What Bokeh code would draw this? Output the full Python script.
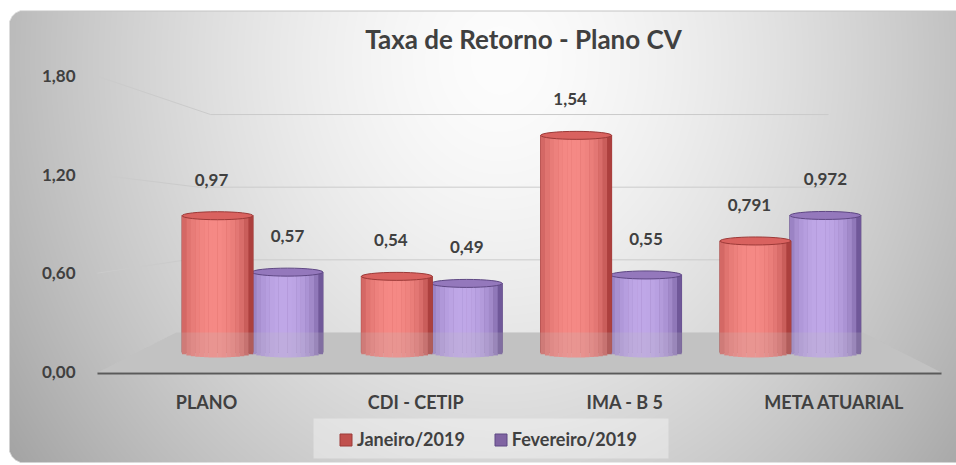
import numpy as np
from bokeh.plotting import figure
from bokeh.models import (Range1d, LinearAxis, FixedTicker, CustomJSTickFormatter,
                          Legend, LegendItem, ColumnDataSource)
from bokeh.transform import dodge
from bokeh.core.properties import value
from bokeh.embed import file_html
from bokeh.resources import INLINE

# ---------------- data ----------------
categories = ["PLANO", "CDI - CETIP", "IMA - B 5", "META ATUARIAL"]
series_names = ["Janeiro/2019", "Fevereiro/2019"]
janeiro = [0.97, 0.54, 1.54, 0.791]
fevereiro = [0.57, 0.49, 0.55, 0.972]
y_ticks = [0.0, 0.6, 1.2, 1.8]
title_text = "Taxa de Retorno - Plano CV"

# ---------------- layout constants ----------------
W, H = 956, 465
FONT = "Lato"
TXT = "#404040"

FRONT_O, FRONT_K = 371.0, 164.0     # axis scale (front edge of floor)
BACK_O, BACK_K = 332.0, 121.1       # back wall scale
BAR_O, BAR_K = 352.0, 141.0         # bar scale (middle of floor)
CAT_O, CAT_K = 206.0, 209.3         # category label positions
BARX_O, BARX_K = 252.0, 179.3       # bar group positions
BW = 0.396                          # bar width in group units
OFFS = [-0.195, 0.195]


def yrange(o, k):
    return Range1d(start=(o - H) / k, end=o / k)


def xrange_(o, k):
    return Range1d(start=-o / k, end=(W - o) / k)


p = figure(width=W, height=H, x_range=Range1d(0, W), y_range=Range1d(H, 0),
           x_axis_type=None, y_axis_type=None, output_backend="svg",
           toolbar_location=None, min_border=0, outline_line_color=None,
           background_fill_color="white", border_fill_color="white")
p.extra_y_ranges = {"front": yrange(FRONT_O, FRONT_K), "back": yrange(BACK_O, BACK_K),
                    "bar": yrange(BAR_O, BAR_K), "img": Range1d(0, H)}
p.extra_x_ranges = {"cat": xrange_(CAT_O, CAT_K), "barx": xrange_(BARX_O, BARX_K)}

# ---------------- background gradient (rounded box) ----------------
xs = np.arange(W) + 0.5
ys = H - (np.arange(H) + 0.5)          # screen y (from top) for each image row
X, Y = np.meshgrid(xs, ys)
d = np.sqrt(((X - 500) / 520.0) ** 2 + ((Y - 60) / 600.0) ** 2)
g = 253 - 72 * np.clip(d, 0, 1.3) ** 1.5
alpha = np.full(g.shape, 255.0)
R = 14.0
left, top, bottom = 9.0, 10.0, 462.0
alpha[(X < left) | (Y < top) | (Y > bottom)] = 0
m1 = (X < left + R) & (Y < top + R) & (np.hypot(X - (left + R), Y - (top + R)) > R)
m2 = (X < left + R) & (Y > bottom - R) & (np.hypot(X - (left + R), Y - (bottom - R)) > R)
alpha[m1 | m2] = 0
edge = (Y >= top) & (Y < top + 1.5)
g[edge] = 196
img = np.empty((H, W), dtype=np.uint32)
view = img.view(dtype=np.uint8).reshape((H, W, 4))
view[..., 0] = g.astype(np.uint8)
view[..., 1] = g.astype(np.uint8)
view[..., 2] = g.astype(np.uint8)
view[..., 3] = alpha.astype(np.uint8)
p.image_rgba(image=[img], x=0, y=0, dw=W, dh=H, y_range_name="img")

# ---------------- floor ----------------
floor_x = [97, 941, 862, 176]
floor_y = [372, 372, 332, 332]
p.patch(floor_x, floor_y, fill_color="#c3c3c3", line_color=None)
p.line([97, 941], [373, 373], line_color="#5a5a5a", line_width=2)

# ---------------- perspective gridlines ----------------
for v in y_ticks[1:]:
    fy = FRONT_O - FRONT_K * v
    by = BACK_O - BACK_K * v
    ex = 174 + 20 * v
    p.line([97, ex], [fy, by], line_color="#cbcbcb", line_width=1)
p.segment(x0=[174 + 20 * v for v in y_ticks[1:]], x1=[828] * 3,
          y0=y_ticks[1:], y1=y_ticks[1:], y_range_name="back",
          line_color="#cbcbcb", line_width=1)

# ---------------- cylinders ----------------
palettes = [
    ((160, 52, 50), (246, 138, 134), "#c0504d", "#9c3a38", "#d9625f"),
    ((98, 74, 140), (192, 168, 232), "#8064a2", "#5f4884", "#9478bc"),
]
idx = list(range(len(categories)))
sources = []
for vals in (janeiro, fevereiro):
    sources.append(ColumnDataSource(dict(
        idx=idx, val=vals, label=[str(v).replace(".", ",") for v in vals])))

base_renderers = []
n = 16
h2 = 5.0 / BAR_K
order = [1, 0]
for s in order:
    src = sources[s]
    o = OFFS[s]
    dark, light, mid, line_c, top_c = palettes[s]
    base = p.vbar(x=dodge("idx", o), top="val", bottom=0, width=BW, source=src,
                  x_range_name="barx", y_range_name="bar",
                  fill_color=mid, line_color=line_c, line_width=1)
    base_renderers.append((s, base))
    for k in range(n):
        u = -1 + (2 * k + 1) / n
        shade = 0.15 + 0.85 * np.sqrt(max(0.0, 1 - (u + 0.1) ** 2))
        shade = min(1.0, shade)
        col = tuple(int(dark[c] + (light[c] - dark[c]) * shade) for c in range(3))
        p.vbar(x=dodge("idx", o + u * BW / 2), top="val",
               bottom=-h2 * np.sqrt(max(0.0, 1 - u * u)), width=BW / n * 1.05,
               source=src, x_range_name="barx", y_range_name="bar",
               fill_color="#%02x%02x%02x" % col, line_color=None)
    p.ellipse(x=dodge("idx", o), y="val", width=BW, height=8, height_units="screen",
              source=src, x_range_name="barx", y_range_name="bar",
              fill_color=top_c, line_color=line_c, line_width=1)

# translucent floor over bar feet
p.patch(floor_x, floor_y, fill_color="#bdbdbd", fill_alpha=0.22, line_color=None)

# ---------------- data labels ----------------
for s, xo in ((0, -6), (1, 0)):
    p.text(x=dodge("idx", OFFS[s]), y="val", text="label", source=sources[s],
           x_range_name="barx", y_range_name="bar", x_offset=xo, y_offset=-36,
           text_align="center", text_baseline="middle", text_font=value(FONT),
           text_font_style="bold", text_font_size="17px", text_color=TXT)

# ---------------- title ----------------
p.text(x=[523], y=[38], text=[title_text], text_align="center", text_baseline="middle",
       text_font=value(FONT), text_font_style="bold", text_font_size="26px",
       text_color=TXT)

# ---------------- axes ----------------
yaxis = LinearAxis(y_range_name="front", ticker=FixedTicker(ticks=y_ticks),
                   formatter=CustomJSTickFormatter(code="return tick.toFixed(2).replace('.', ',');"),
                   fixed_location=85, axis_line_color=None,
                   major_tick_line_color=None, minor_tick_line_color=None,
                   major_tick_in=0, major_tick_out=0, major_label_standoff=10,
                   major_label_text_font=FONT, major_label_text_font_style="bold",
                   major_label_text_font_size="17px", major_label_text_color=TXT)
p.add_layout(yaxis, "left")

xaxis = LinearAxis(x_range_name="cat", ticker=FixedTicker(ticks=idx),
                   major_label_overrides={i: c for i, c in enumerate(categories)},
                   fixed_location=389, axis_line_color=None,
                   major_tick_line_color=None, minor_tick_line_color=None,
                   major_tick_in=0, major_tick_out=0, major_label_standoff=1,
                   major_label_text_font=FONT, major_label_text_font_style="bold",
                   major_label_text_font_size="18px", major_label_text_color=TXT)
p.add_layout(xaxis, "below")

# ---------------- legend ----------------
p.quad(left=[313], right=[668], top=[418], bottom=[458], fill_color="white",
       fill_alpha=0.35, line_color=None)
rmap = dict(base_renderers)
legend = Legend(items=[LegendItem(label=series_names[s], renderers=[rmap[s]]) for s in (0, 1)],
                orientation="horizontal", location=(338, 15), padding=0, spacing=28,
                glyph_width=15, glyph_height=15, label_standoff=4,
                label_text_font=FONT, label_text_font_style="bold",
                label_text_font_size="18px", label_text_color=TXT,
                background_fill_alpha=0, border_line_alpha=0)
p.add_layout(legend)

open("out.html", "w").write(file_html(p, INLINE))
